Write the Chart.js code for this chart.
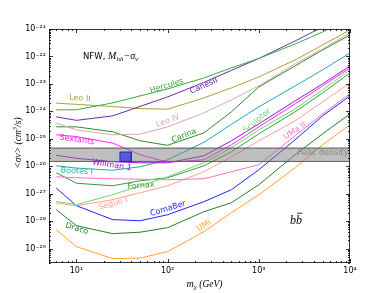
<!DOCTYPE html>
<html><head><meta charset="utf-8">
<script src="https://cdn.jsdelivr.net/npm/chart.js@4.4.1/dist/chart.umd.min.js"></script>
<style>html,body{margin:0;padding:0;background:#fff}</style>
</head><body>
<canvas id="c" width="390" height="293" style="display:block;width:390px;height:293px"></canvas>
<script>
// ---- data ----
const masses   = [6, 10, 25, 50, 100, 250, 500, 1000, 2500, 5000, 10000];
const hercules = [1.14e-24,1.14e-24,2.04e-24,3.66e-24,6.58e-24,1.65e-23,3.82e-23,8.45e-23,2.85e-22,7.78e-22,2.51e-21];
const canesII  = [6.31e-25,4.71e-25,6.86e-25,1.52e-24,3.36e-24,1.14e-23,3.10e-23,8.45e-23,3.66e-22,1.18e-21,3.82e-21];
const leoII    = [1.99e-24,1.80e-24,1.50e-24,1.26e-24,1.20e-24,3.10e-24,7.16e-24,1.80e-23,7.46e-23,2.62e-22,9.2e-22];
const leoIV    = [3.72e-25,2.12e-25,1.40e-25,1.48e-25,2.73e-25,8.81e-25,2.62e-24,8.45e-24,5.33e-23,1.87e-22,7.16e-22];
const carina   = [2.73e-25,2.73e-25,1.80e-25,8.45e-26,5.80e-26,1.65e-25,9.6e-25,7.78e-24,4.52e-23,1.72e-22,6.05e-22];
const sextants = [1.40e-25,1.21e-25,6.98e-26,2.62e-26,1.40e-26,1.72e-26,6.05e-26,2.73e-25,1.87e-24,8.45e-24,3.82e-23];
const willman1 = [2.51e-26,1.95e-26,1.46e-26,1.34e-26,1.34e-26,2.41e-26,8.45e-26,3.51e-25,2.41e-24,1.0e-23,4.52e-23];
const bootesI  = [1.04e-26,8.6e-27,7.16e-27,9.6e-27,1.72e-26,7.46e-26,3.36e-25,1.46e-24,8.45e-24,3.23e-23,1.34e-22];
const sculptor = [5.25e-28,3.98e-28,9.2e-28,1.95e-27,4.15e-27,1.34e-26,4.71e-26,2.12e-25,1.23e-24,6.05e-24,3.23e-23];
const fornax   = [5.8e-27,2.41e-27,1.95e-27,2.97e-27,3.82e-27,1.04e-26,3.36e-26,1.52e-25,9.6e-25,4.71e-24,2.51e-23];
const segueI   = [4.59e-28,3.66e-28,6.05e-28,1.09e-27,1.95e-27,6.31e-27,2.21e-26,8.45e-26,4.52e-25,2.21e-24,1.09e-23];
const umaII    = [4.15e-27,3.82e-27,3.51e-27,3.37e-27,3.23e-27,3.51e-27,6.31e-27,1.14e-26,1.29e-25,8.11e-25,4.33e-24];
const comaBer  = [1.61e-27,3.66e-28,1.14e-28,1.04e-28,1.72e-28,5.12e-28,1.40e-27,7.46e-27,9.2e-26,6.86e-25,3.66e-24];
const draco    = [2.62e-28,6.86e-29,3.51e-29,3.98e-29,5.80e-29,2.21e-28,4.71e-28,2.12e-27,2.62e-26,1.52e-25,8.11e-25];
const umi      = [4.91e-29,1.18e-29,4.33e-30,4.52e-30,7.78e-30,4.15e-29,2.04e-28,9.2e-28,8.81e-27,6.05e-26,3.23e-25];

const relicRange = [1.5e-26, 4.6e-26];      // relic density band
const gcMassRange = [30, 40];                // blue box, x extent
const gcSigmaRange = [1.5e-26, 3.3e-26];     // blue box, y extent

const xTickValues = [10, 100, 1000, 10000];
const yTickValues = [1e-29,1e-28,1e-27,1e-26,1e-25,1e-24,1e-23,1e-22,1e-21];

// ---- styles ----
const seriesList = [
  {name:'Hercules', vals:hercules, color:'#3aaa3a'},
  {name:'CanesII',  vals:canesII,  color:'#6c2aa8'},
  {name:'Leo II',   vals:leoII,    color:'#aaa03a'},
  {name:'Leo IV',   vals:leoIV,    color:'#d8aaaa'},
  {name:'Carina',   vals:carina,   color:'#2f8a2f'},
  {name:'Sextants', vals:sextants, color:'#ff22ff'},
  {name:'Willman 1',vals:willman1, color:'#9a10d8'},
  {name:'Bootes I', vals:bootesI,  color:'#22a8b0'},
  {name:'Sculptor', vals:sculptor, color:'#66dd66'},
  {name:'UMa II',   vals:umaII,    color:'#ff70c8'},
  {name:'Segue I',  vals:segueI,   color:'#ffa090'},
  {name:'Fornax',   vals:fornax,   color:'#3c9a3c'},
  {name:'ComaBer',  vals:comaBer,  color:'#2222ff'},
  {name:'Draco',    vals:draco,    color:'#2a7c2a'},
  {name:'UMi',      vals:umi,      color:'#ffa033'}
];
// label anchors in data coordinates
const lineLabels = [
  {t:'Hercules', m:98,   s:8.45e-24, c:'#3aaa3a', r:-17},
  {t:'CanesII',  m:250,  s:8.45e-24, c:'#6c2aa8', r:-24},
  {t:'Leo II',   m:10.9, s:2.97e-24, c:'#aaa03a', r:5},
  {t:'Leo IV',   m:101,  s:4.52e-25, c:'#d8aaaa', r:-20},
  {t:'Carina',   m:151,  s:1.29e-25, c:'#2f8a2f', r:-22},
  {t:'Sextants', m:10.1, s:9.2e-26,  c:'#ff22ff', r:8},
  {t:'Willman 1',m:24.5, s:1.09e-26, c:'#9a10d8', r:9},
  {t:'Bootes I', m:10.1, s:6.58e-27, c:'#22a8b0', r:3},
  {t:'Sculptor', m:955,  s:4.52e-25, c:'#66dd66', r:-40},
  {t:'UMa II',   m:2490, s:1.95e-25, c:'#ff70c8', r:-33},
  {t:'Fornax',   m:51,   s:1.95e-27, c:'#3c9a3c', r:-5},
  {t:'Segue I',  m:25.2, s:4.33e-28, c:'#ffa090', r:-16},
  {t:'ComaBer',  m:101,  s:2.85e-28, c:'#2222ff', r:-17},
  {t:'Draco',    m:10.1, s:5.33e-29, c:'#2a7c2a', r:17},
  {t:'UMi',      m:250,  s:6.86e-29, c:'#ffa033', r:-34},
  {t:'Relic density', m:5050, s:2.97e-26, c:'#888888', r:0}
];

const SUP = {'-':'\u207B','0':'\u2070','1':'\u00B9','2':'\u00B2','3':'\u00B3','4':'\u2074','5':'\u2075','6':'\u2076','7':'\u2077','8':'\u2078','9':'\u2079'};
const fmtPow = v => '10' + String(Math.round(Math.log10(v))).split('').map(ch => SUP[ch]).join('');

const datasets = [];
// blue box (top-most)
datasets.push({data:[{x:gcMassRange[0],y:gcSigmaRange[0]},{x:gcMassRange[0],y:gcSigmaRange[1]},{x:gcMassRange[1],y:gcSigmaRange[1]},{x:gcMassRange[1],y:gcSigmaRange[0]},{x:gcMassRange[0],y:gcSigmaRange[0]}],
  showLine:true, borderColor:'#2a2ab0', borderWidth:1, fill:false, pointRadius:0});
datasets.push({data:gcMassRange.map(m=>({x:m,y:gcSigmaRange[1]})), showLine:true, borderWidth:0, borderColor:'rgba(0,0,0,0)', fill:'+1', backgroundColor:'rgba(70,70,225,0.85)', pointRadius:0});
datasets.push({data:gcMassRange.map(m=>({x:m,y:gcSigmaRange[0]})), showLine:true, borderWidth:0, borderColor:'rgba(0,0,0,0)', fill:false, pointRadius:0});
// relic band
datasets.push({data:[{x:5,y:relicRange[1]},{x:1e4,y:relicRange[1]}], showLine:true, borderColor:'#555', borderWidth:1, fill:'+1', backgroundColor:'rgba(128,128,128,0.5)', pointRadius:0});
datasets.push({data:[{x:5,y:relicRange[0]},{x:1e4,y:relicRange[0]}], showLine:true, borderColor:'#555', borderWidth:1, fill:false, pointRadius:0});
for (const s of seriesList) {
  datasets.push({label:s.name, data:masses.map((m,i)=>({x:m,y:s.vals[i]})), showLine:true, borderColor:s.color, borderWidth:1, pointRadius:0, fill:false, tension:0});
}

function drawRich(ctx, x, y, parts, align) {
  let w = 0;
  for (const p of parts) { ctx.font = p.f; w += ctx.measureText(p.t).width; }
  let cx = align === 'center' ? x - w/2 : x;
  ctx.textAlign = 'left'; ctx.textBaseline = 'alphabetic';
  for (const p of parts) { ctx.font = p.f; ctx.fillText(p.t, cx, y + (p.dy||0)); cx += ctx.measureText(p.t).width; }
}

const deco = {
  id:'deco',
  afterDatasetsDraw(chart) {
    const {ctx, chartArea:ca, scales:{x, y}} = chart;
    ctx.save();
    // line labels
    ctx.font = '8px "DejaVu Sans"';
    ctx.textAlign = 'center'; ctx.textBaseline = 'middle';
    for (const L of lineLabels) {
      const px = x.getPixelForValue(L.m), py = y.getPixelForValue(L.s);
      ctx.save(); ctx.translate(px, py); ctx.rotate(L.r*Math.PI/180);
      ctx.fillStyle = L.c; ctx.fillText(L.t, 0, 0); ctx.restore();
    }
    // frame
    ctx.strokeStyle = '#333'; ctx.lineWidth = 1;
    ctx.strokeRect(Math.round(ca.left)+0.5, Math.round(ca.top)+0.5, Math.round(ca.right-ca.left)-1, Math.round(ca.bottom-ca.top)-1);
    // tick marks (inward, all four sides)
    ctx.strokeStyle = '#000'; ctx.lineWidth = 0.8; ctx.beginPath();
    for (let e=0;e<=4;e++) for (let k=1;k<=9;k++) {
      const v = k*Math.pow(10,e); if (v < x.min || v > x.max) continue;
      const p = Math.round(x.getPixelForValue(v))+0.5, L = k===1?4:2;
      ctx.moveTo(p, ca.bottom); ctx.lineTo(p, ca.bottom-L);
      ctx.moveTo(p, ca.top); ctx.lineTo(p, ca.top+L);
    }
    for (let e=-30;e<=-21;e++) for (let k=1;k<=9;k++) {
      const v = k*Math.pow(10,e); if (v < y.min*0.999 || v > y.max*1.001) continue;
      const p = Math.round(y.getPixelForValue(v))+0.5, L = k===1?4:2;
      ctx.moveTo(ca.left, p); ctx.lineTo(ca.left+L, p);
      ctx.moveTo(ca.right, p); ctx.lineTo(ca.right-L, p);
    }
    ctx.stroke();
    // annotation texts
    ctx.fillStyle = '#000';
    const serif = '"Liberation Serif"';
    drawRich(ctx, ca.left+34, ca.top+30, [
      {t:'NFW, ', f:'8.5px "DejaVu Sans"'},
      {t:'M', f:'italic 10px '+serif},
      {t:'hh', f:'italic 7px '+serif, dy:2},
      {t:'\u2212\u03C3', f:'italic 10px '+serif},
      {t:'v', f:'italic 7px '+serif, dy:2}
    ], 'left');
    // b b-bar
    const bx = x.getPixelForValue(2550), by = y.getPixelForValue(1.135e-28);
    ctx.font = 'italic 12px '+serif;
    const wb = ctx.measureText('b').width;
    drawRich(ctx, bx, by+4, [{t:'bb', f:'italic 12px '+serif}], 'center');
    ctx.strokeStyle = '#000'; ctx.lineWidth = 0.8; ctx.beginPath();
    ctx.moveTo(bx+1, by-6.5); ctx.lineTo(bx+wb+0.5, by-6.5); ctx.stroke();
    // axis titles
    drawRich(ctx, (ca.left+ca.right)/2+5, 286.5, [
      {t:'m', f:'italic 10px '+serif},
      {t:'\u03C7', f:'italic 7px '+serif, dy:2.5},
      {t:' (GeV)', f:'italic 9.5px '+serif}
    ], 'center');
    ctx.save(); ctx.translate(20.5, (ca.top+ca.bottom)/2 - 3); ctx.rotate(-Math.PI/2);
    drawRich(ctx, 0, 0, [
      {t:'<\u03C3v> (cm', f:'italic 9.5px '+serif},
      {t:'3', f:'italic 6.5px '+serif, dy:-4},
      {t:'/s)', f:'italic 9.5px '+serif}
    ], 'center');
    ctx.restore();
    ctx.restore();
  }
};

new Chart(document.getElementById('c'), {
  type:'scatter',
  data:{datasets},
  options:{
    responsive:false, animation:false, devicePixelRatio:1,
    layout:{padding:{top:29, right:40, left:0, bottom:0}},
    plugins:{legend:{display:false}, tooltip:{enabled:false}},
    elements:{point:{radius:0}, line:{tension:0}},
    scales:{
      x:{type:'logarithmic', min:5, max:1e4, bounds:'data',
        grid:{display:false, drawTicks:false}, border:{display:false},
        afterBuildTicks:s=>{ s.ticks = xTickValues.map(v=>({value:v})); },
        afterFit:s=>{ s.height = 30; },
        ticks:{callback:v=>fmtPow(v), font:{family:'DejaVu Sans', size:8}, color:'#000', padding:3, maxRotation:0, autoSkip:false}},
      y:{type:'logarithmic', min:3e-30, max:1e-21, bounds:'data',
        grid:{display:false, drawTicks:false}, border:{display:false},
        afterBuildTicks:s=>{ s.ticks = yTickValues.map(v=>({value:v})); },
        afterFit:s=>{ s.width = 49; },
        ticks:{callback:v=>fmtPow(v), font:{family:'DejaVu Sans', size:8}, color:'#000', padding:3, autoSkip:false}}
    }
  },
  plugins:[deco]
});
</script>
</body></html>
